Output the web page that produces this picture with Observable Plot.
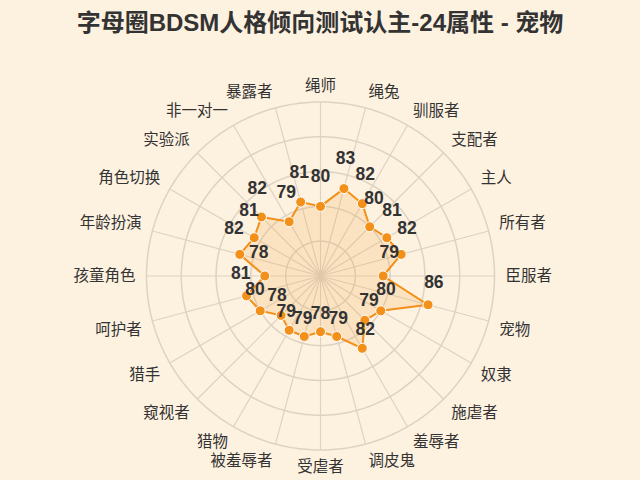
<!DOCTYPE html>
<html><head><meta charset="utf-8">
<script src="https://cdn.jsdelivr.net/npm/d3@7"></script>
<script src="https://cdn.jsdelivr.net/npm/@observablehq/plot@0.6"></script>
<style>
html,body{margin:0;padding:0;background:#fdf1e0;width:640px;height:480px;overflow:hidden;}
#title{height:46px;line-height:46px;text-align:center;font-weight:bold;font-size:24px;font-family:"Liberation Sans","Noto Sans CJK SC",sans-serif;color:#333;white-space:nowrap;}
#chart svg{display:block;}
</style></head><body>
<div id="title"></div>
<div id="chart"></div>
<script>
const titleText = "字母圈BDSM人格倾向测试认主-24属性 - 宠物";
const categories = ["绳师","绳兔","驯服者","支配者","主人","所有者","臣服者","宠物","奴隶","施虐者","羞辱者","调皮鬼","受虐者","被羞辱者","猎物","窥视者","猎手","呵护者","孩童角色","年龄扮演","角色切换","实验派","非一对一","暴露者"];
const values = [80,83,82,80,81,82,79,86,80,79,82,79,78,79,79,78,80,81,78,82,81,82,79,81];
const ringTicks = [75,80,85,90,95];
const scaleMin = 70, scaleMax = 95;

document.getElementById("title").textContent = titleText;

const step = 360 / categories.length;
const lon = i => 180 - step * i;
const dist = v => v - scaleMin;
const outer = scaleMax - scaleMin;
const labelDist = outer * 185 / 174;
const valueOffset = outer * 6 / 174;
const domainDist = outer * 200 / 174;

const rows = categories.map((name, i) => ({name, value: values[i], i}));
const axes = categories.map((name, i) => {
  const a = i * step * Math.PI / 180;
  const s = Math.sin(a), c = Math.cos(a);
  return {name, i,
    ta: s > 0.01 ? "start" : s < -0.01 ? "end" : "middle",
    la: c > 0.01 ? "bottom" : c < -0.01 ? "top" : "middle"};
});

const labelMarks = [];
for (const ta of ["start", "middle", "end"]) for (const la of ["top", "middle", "bottom"]) {
  const sub = axes.filter(d => d.ta === ta && d.la === la);
  if (sub.length) labelMarks.push(Plot.text(sub, {
    x: d => lon(d.i), y: d => 90 - labelDist, text: "name",
    textAnchor: ta, lineAnchor: la, fontSize: 15.5, fill: "#333"
  }));
}

const orange = "#f39019";
const gridColor = "#ddd2c3";

const chart = Plot.plot({
  width: 640,
  height: 434,
  marginTop: 29.5,
  marginBottom: 4.5,
  marginLeft: 120,
  marginRight: 120,
  style: {background: "transparent", fontFamily: '"Liberation Sans","Noto Sans CJK SC",sans-serif', overflow: "visible"},
  projection: {
    type: "azimuthal-equidistant",
    rotate: [0, -90],
    domain: d3.geoCircle().center([0, 90]).radius(domainDist)()
  },
  marks: [
    Plot.geo(ringTicks, {
      geometry: t => d3.geoCircle().center([0, 90]).radius(dist(t)).precision(1)(),
      stroke: gridColor, strokeWidth: 1.5, fill: "none"
    }),
    Plot.link(axes, {
      x1: d => lon(d.i), y1: d => 90 - outer, x2: d => lon(d.i), y2: d => 90,
      stroke: gridColor, strokeWidth: 1.2
    }),
    Plot.line(rows, {
      x: d => lon(d.i), y: d => 90 - dist(d.value), curve: "linear-closed",
      stroke: orange, strokeWidth: 2, fill: "#f5a030", fillOpacity: 0.17
    }),
    Plot.dot(rows, {
      x: d => lon(d.i), y: d => 90 - dist(d.value), r: 5,
      fill: orange, stroke: "#fff", strokeWidth: 1
    }),
    Plot.text(rows, {
      x: d => lon(d.i), y: d => 90 - dist(d.value) - valueOffset,
      text: d => String(d.value), dy: -24, fontSize: 17.5, fontWeight: "bold", fill: "#333"
    }),
    ...labelMarks
  ]
});
document.getElementById("chart").appendChild(chart);
</script>
</body></html>
